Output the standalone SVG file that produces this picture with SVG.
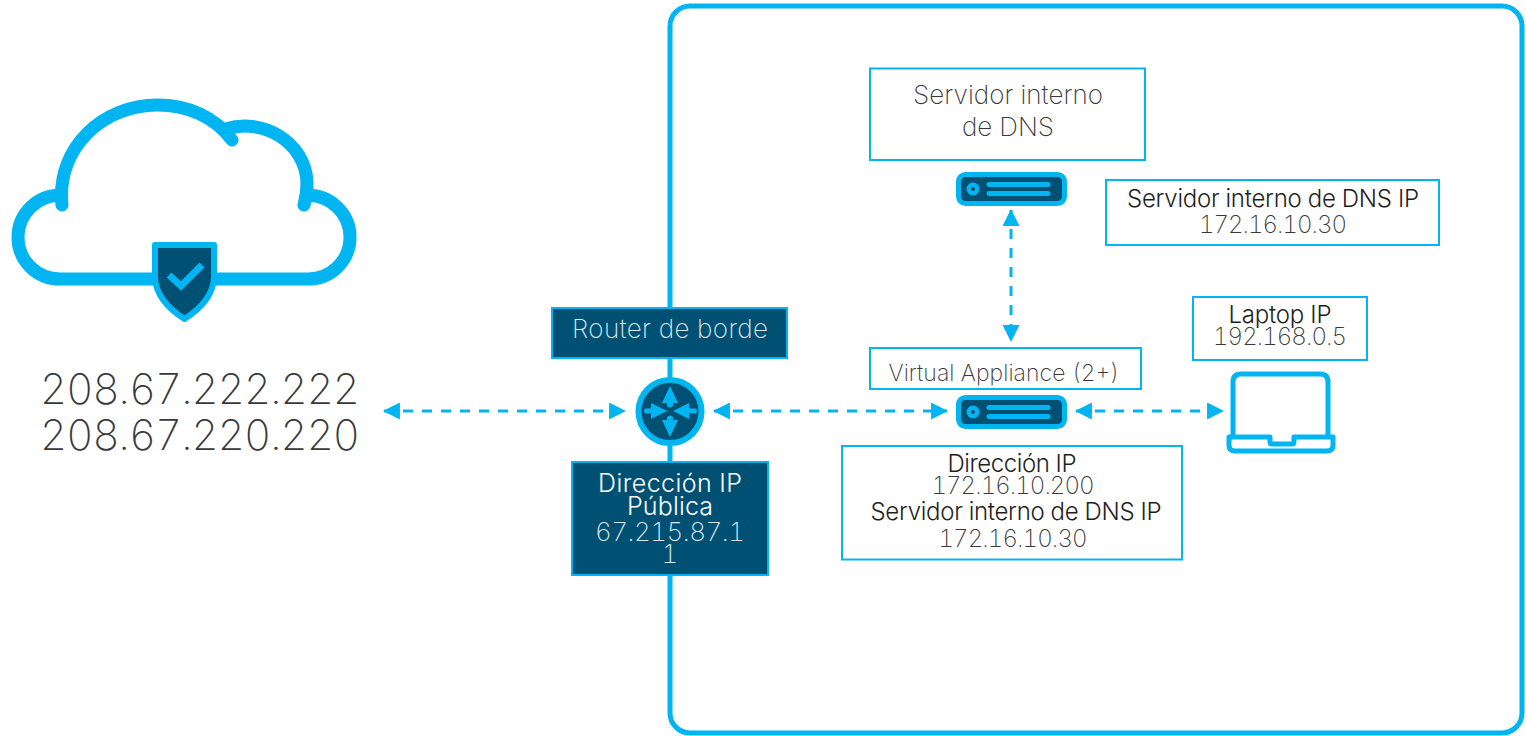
<svg xmlns="http://www.w3.org/2000/svg" width="1526" height="736" viewBox="0 0 1526 736">
<style>
text{font-family:"Inter","Liberation Sans",sans-serif;text-anchor:middle;font-weight:200;font-variant-numeric:tabular-nums}
.box{fill:#fff;stroke:#00b5f1;stroke-width:2}
.dark{fill:#005073;stroke:#00b5f1;stroke-width:2}
.ln{fill:none;stroke:#00b5f1;stroke-linecap:round;stroke-linejoin:round}
.conn{fill:none;stroke:#00b5f1;stroke-width:3;stroke-dasharray:10 9;marker-start:url(#a);marker-end:url(#a)}
.t{fill:#39393b}.b{fill:#1f1f21;font-weight:300}
.w{fill:#d9e8ef}.wb{fill:#fff;font-weight:300}
</style>
<defs>
<marker id="a" viewBox="0 0 16 16" refX="15" refY="8" markerWidth="17" markerHeight="17" markerUnits="userSpaceOnUse" orient="auto-start-reverse"><path d="M0 0L16 8L0 16Z" fill="#00b5f1"/></marker>
<g id="srv"><rect x="2.5" y="2.5" width="106" height="29" rx="7" fill="#005073" stroke="#00b5f1" stroke-width="5"/><circle cx="17" cy="17" r="6.5" fill="#00b5f1"/><circle cx="17" cy="17" r="2" fill="#005073"/><path d="M33 12.500H92M33 21.500H92" fill="none" stroke="#00b5f1" stroke-width="5" stroke-linecap="round"/></g>
</defs>
<rect id="container" x="670" y="6" width="852" height="727" rx="20" fill="#fff" stroke="#00b5f1" stroke-width="5"/>
<g id="connectors">
<path class="conn" d="M384 411H625"/>
<path class="conn" d="M714 411H947"/>
<path class="conn" d="M1011 210V341"/>
<path class="conn" d="M1076 411H1223"/>
</g>
<g id="cloud">
<path class="ln" stroke-width="13" d="M62 205C56 146 105 105 157 105C188 105 215 117 232 140M226 129C262 117 306 142 307 183C307 190 306 198 304 205M61 195C37 195 18 214 18 237C18 261 37 279 60 279H308C331 279 350 261 350 237C350 214 331 195 307 195"/>
<path d="M155 245H214V278C213 296 200 309 184.500 319C169 309 156 296 155 278Z" fill="#005073" stroke="#00b5f1" stroke-width="6" stroke-linejoin="round"/>
<path d="M169 275L181 286L202 265" fill="none" stroke="#00b5f1" stroke-width="7"/>
<text class="t" x="200" y="404" font-size="42" textLength="320">208.67.222.222</text>
<text class="t" x="200" y="450" font-size="42" textLength="320">208.67.220.220</text>
</g>
<g id="router-label"><rect class="dark" x="552" y="308" width="235" height="50"/><text class="w" x="670" y="338" font-size="26" textLength="196">Router de borde</text></g>
<g id="router"><circle cx="670" cy="411.500" r="31.500" fill="#005073" stroke="#00b5f1" stroke-width="6"/>
<path d="M670 386L678 403H673V406Q670 409 667 406V403H662ZM670 437L678 420H673V417Q670 414 667 417V420H662ZM667 411L651 403V408.500H645Q643 411 645 413.500H651V419ZM673 411L689 403V408.500H696Q698 411 696 413.500H689V419Z" fill="#00b5f1"/></g>
<g id="public-ip"><rect class="dark" x="572" y="462" width="196" height="113"/>
<text class="wb" x="670" y="492" font-size="25" textLength="144">Dirección IP</text><text class="wb" x="670" y="515" font-size="25" textLength="86">Pública</text><text class="w" x="670" y="541" font-size="26" textLength="150">67.215.87.1</text><text class="w" x="670" y="563" font-size="26">1</text></g>
<g id="dns-label"><rect class="box" x="870" y="68.500" width="275" height="91.500"/><text class="t" x="1008" y="104" font-size="26" textLength="190">Servidor interno</text><text class="t" x="1008" y="136" font-size="26" textLength="92">de DNS</text></g>
<use id="dns-server" href="#srv" x="956" y="172"/>
<g id="dns-ip"><rect class="box" x="1106" y="180" width="333" height="65"/><text class="b" x="1273" y="207" font-size="24" textLength="292">Servidor interno de DNS IP</text><text class="t" x="1273" y="233" font-size="24" textLength="148">172.16.10.30</text></g>
<g id="va-label"><rect class="box" x="870" y="348" width="271" height="41"/><text class="t" x="1004" y="381" font-size="23" textLength="231">Virtual Appliance (2+)</text></g>
<use id="va-server" href="#srv" x="956" y="395"/>
<g id="va-ip"><rect class="box" x="842" y="446" width="340" height="113.500"/><text class="b" x="1012" y="472" font-size="24" textLength="129">Dirección IP</text><text class="t" x="1013" y="494" font-size="24" textLength="163">172.16.10.200</text><text class="b" x="1016" y="520" font-size="24" textLength="291">Servidor interno de DNS IP</text><text class="t" x="1013" y="547" font-size="24" textLength="149">172.16.10.30</text></g>
<g id="laptop-label"><rect class="box" x="1193" y="297" width="174" height="63"/><text class="b" x="1280" y="323" font-size="24" textLength="103">Laptop IP</text><text class="t" x="1280" y="345" font-size="24" textLength="134">192.168.0.5</text></g>
<g id="laptop"><path class="ln" stroke-width="5" d="M1233 435V382Q1233 374 1241 374H1320Q1328 374 1328 382V435"/>
<path class="ln" stroke-width="5" d="M1229 437H1270V442Q1270 444 1272 444H1292Q1294 444 1294 442V437H1333V445Q1333 451 1327 451H1235Q1229 451 1229 445Z"/></g>
</svg>
